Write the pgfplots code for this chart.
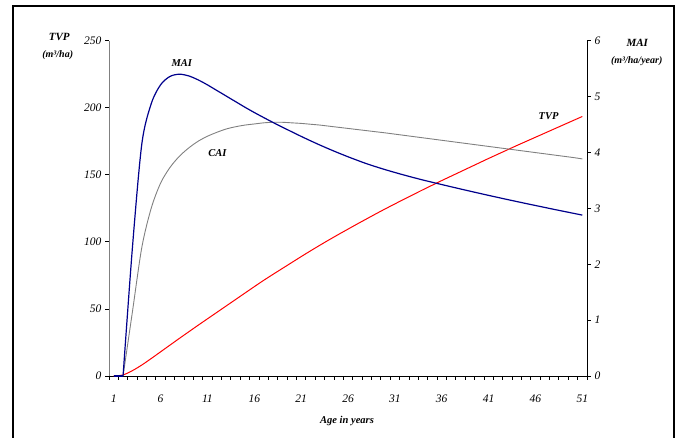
\documentclass[border=0pt]{standalone}
\usepackage{pgfplots}
\pgfplotsset{compat=1.18}
\usepackage{pgfplotstable}
\usepackage{fontspec}
\setmainfont{Liberation Serif}

\definecolor{navyline}{RGB}{0,0,140}
\definecolor{grayline}{RGB}{128,128,128}
\definecolor{redline}{RGB}{255,0,0}

\pgfplotstableread{
age tvp blue gray
1 0 0 0
2 0.8 0 0
3 4.0 2.30 1.15
4 8.2 4.15 2.30
5 13.0 4.87 3.00
6 18.0 5.21 3.45
7 23.0 5.36 3.73
8 28.0 5.40 3.93
9 32.9 5.37 4.08
10 37.8 5.30 4.20
11 42.6 5.21 4.29
12 47.4 5.11 4.36
13 52.2 5.01 4.42
14 57.0 4.91 4.46
15 61.8 4.81 4.49
16 66.6 4.715 4.51
17 71.3 4.625 4.53
18 75.8 4.537 4.54
19 80.2 4.452 4.54
20 84.6 4.370 4.53
21 89.0 4.288 4.52
22 93.3 4.209 4.505
23 97.5 4.133 4.49
24 101.6 4.060 4.47
25 105.6 3.990 4.45
26 109.5 3.923 4.43
27 113.4 3.859 4.41
28 117.2 3.798 4.39
29 121.0 3.743 4.37
30 124.7 3.691 4.35
31 128.3 3.642 4.328
32 131.9 3.595 4.306
33 135.4 3.550 4.284
34 138.9 3.507 4.262
35 142.3 3.466 4.24
36 145.7 3.426 4.218
37 149.0 3.386 4.196
38 152.3 3.347 4.174
39 155.6 3.308 4.152
40 158.9 3.270 4.13
41 162.2 3.232 4.108
42 165.4 3.195 4.086
43 168.6 3.158 4.064
44 171.8 3.122 4.042
45 174.9 3.086 4.02
46 178.0 3.051 3.998
47 181.1 3.016 3.976
48 184.2 2.981 3.954
49 187.3 2.947 3.932
50 190.4 2.913 3.91
51 193.5 2.879 3.885
}\data

\pgfplotsset{
  common/.style={
    at={(109pt,62pt)}, anchor=south west,
    scale only axis, width=478pt, height=335.3pt,
    xmin=0.5, xmax=51.5,
    tick align=outside,
    major tick length=4pt, minor tick length=4pt,
    axis line style={-, line width=0.8pt},
    tick style={black, line width=0.8pt},
    /pgf/number format/assume math mode=true,
    tick label style={font=\itshape\fontsize{11.5}{13}\selectfont},
    clip=false,
  }
}

\begin{document}
\begin{tikzpicture}
\begin{axis}[common,
  ymin=0, ymax=250,
  axis x line*=bottom, axis y line*=left,
  xtick={1,6,...,51},
  minor xtick={0.5,1.5,2.5,3.5,4.5,5.5,6.5,7.5,8.5,9.5,10.5,11.5,12.5,13.5,14.5,15.5,16.5,17.5,18.5,19.5,20.5,21.5,22.5,23.5,24.5,25.5,26.5,27.5,28.5,29.5,30.5,31.5,32.5,33.5,34.5,35.5,36.5,37.5,38.5,39.5,40.5,41.5,42.5,43.5,44.5,45.5,46.5,47.5,48.5,49.5,50.5,51.5},
  every major x tick/.style={draw=none},
  ytick={0,50,...,250},
  y axis line style={draw=grayline},
  xticklabel style={yshift=-11pt},
]
\addplot[redline, line width=1pt, smooth] table[x=age, y=tvp] {\data};
\node[font=\bfseries\itshape\fontsize{10.5}{12}\selectfont] at (axis cs:8.26,233.2) {MAI};
\node[font=\bfseries\itshape\fontsize{10.5}{12}\selectfont] at (axis cs:12.06,166.1) {CAI};
\node[font=\bfseries\itshape\fontsize{10.5}{12}\selectfont] at (axis cs:47.4,193.9) {TVP};
\end{axis}
\begin{axis}[common,
  ymin=0, ymax=6,
  axis x line=none, axis y line*=right,
  ytick={0,1,...,6},
  xtick=\empty,
]
\addplot[grayline, line width=0.9pt] table[x=age, y=gray, restrict x to domain=1:2] {\data};
\addplot[grayline, line width=0.9pt, smooth] table[x=age, y=gray, restrict x to domain=2:51] {\data};
\addplot[navyline, line width=1.2pt] table[x=age, y=blue, restrict x to domain=1:2] {\data};
\addplot[navyline, line width=1.2pt, smooth] table[x=age, y=blue, restrict x to domain=2:51] {\data};
\end{axis}
\node[font=\bfseries\itshape\fontsize{11}{12}\selectfont] at (59.3pt,400.7pt) {TVP};
\node[font=\bfseries\itshape\fontsize{10}{12}\selectfont] at (57.7pt,383pt) {(m³/ha)};
\node[font=\bfseries\itshape\fontsize{11}{12}\selectfont] at (637.3pt,395.3pt) {MAI};
\node[font=\bfseries\itshape\fontsize{10}{12}\selectfont] at (636.7pt,377pt) {(m³/ha/year)};
\node[font=\bfseries\itshape\fontsize{10.5}{12}\selectfont] at (347pt,17pt) {Age in years};
\draw[line width=2pt] (13pt,-10pt) -- (13pt,432pt) -- (673.5pt,432pt) -- (673.5pt,-10pt);
\pgfresetboundingbox
\path[use as bounding box] (0pt,0pt) rectangle (680pt,438pt);
\end{tikzpicture}
\end{document}
